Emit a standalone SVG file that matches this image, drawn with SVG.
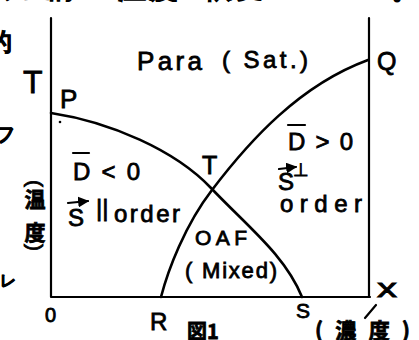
<svg xmlns="http://www.w3.org/2000/svg" width="419" height="340" viewBox="0 0 419 340">
<style>
.ln{stroke:#000;stroke-width:2.2;fill:none;stroke-linecap:round;stroke-linejoin:round}
.cv{stroke:#000;stroke-width:2.6;fill:none;stroke-linecap:round}
text{font-family:"Liberation Sans","DejaVu Sans",sans-serif;fill:#000;stroke:#000;stroke-width:0.8}
.cjk{font-family:"Noto Sans CJK JP","Noto Sans CJK SC",sans-serif;font-weight:bold}
.lb{font-size:24px}
</style>
<defs>
<marker id="ah" viewBox="0 0 10 10" refX="9" refY="5" markerWidth="5" markerHeight="5" orient="auto"><path d="M0,0 L10,5 L0,10 z" fill="#000"/></marker>
</defs>
<rect width="419" height="340" fill="#fff"/>
<g id="fragments" class="cjk">
<text x="0" y="-2" font-size="24">フ五的</text>
<text x="118" y="-2" font-size="28" letter-spacing="4">温度</text>
<text x="205" y="-2" font-size="26" letter-spacing="6">依変</text>
<text x="392" y="-1" font-size="24">。</text>
<text x="-12" y="50" font-size="24">的</text>
<text x="-5" y="141" font-size="20">フ</text>
<text x="0" y="286" font-size="16">レ</text>
</g>
<g id="axes">
<path class="ln" d="M51,18 L51,297 L370,297"/>
<path class="ln" d="M369,18 L369,297" stroke-width="1.8"/>
<path class="ln" d="M365,318 L376,305"/>
<circle cx="60" cy="122" r="1.3" fill="#000"/>
</g>
<g id="connectors">
<path id="curve-PS" class="cv" d="M51,113 C110,122 175,150 211,188 C247,226 285,255 302,297"/>
<path id="curve-RQ" class="cv" d="M161,297 C168,270 185,225 212,190 C250,140 300,85 368,60"/>
</g>
<g id="para"><text x="137" y="70" font-size="26" textLength="65">Para</text><text x="222" y="68" font-size="24" textLength="86">( Sat.)</text></g>
<g id="Q"><text x="377" y="70" font-size="25">Q</text></g>
<g id="T-axis"><text x="23" y="93" font-size="32">T</text></g>
<g id="P"><text x="60" y="108" font-size="26">P</text></g>
<g id="T-mid"><text x="202" y="174" font-size="25">T</text></g>
<g id="region-left">
<text class="lb" x="73" y="180" textLength="67">D &lt; 0</text>
<path class="ln" d="M73,153 L89,153"/>
<text class="lb" x="68" y="226" font-size="26">S</text>
<path class="ln" d="M68,203 L88,201" marker-end="url(#ah)"/>
<text class="lb" x="96" y="216" font-size="18">||</text>
<text class="lb" x="114" y="222" textLength="66">order</text>
</g>
<g id="region-right">
<text class="lb" x="288" y="150" textLength="65">D &gt; 0</text>
<path class="ln" d="M288,125 L305,125"/>
<text class="lb" x="278" y="190" font-size="26">S</text>
<path class="ln" d="M279,169 L296,167" marker-end="url(#ah)"/>
<text x="293" y="176" font-size="18" font-family="DejaVu Sans">⊥</text>
<text class="lb" x="280" y="212" textLength="82">order</text>
</g>
<g id="region-mixed">
<text x="195" y="245" font-size="21" textLength="52">OAF</text>
<text x="185" y="278" font-size="22" textLength="92">( Mixed)</text>
</g>
<g id="T-label" font-size="21">
<text transform="translate(28,180) rotate(90)">(</text>
<text class="cjk" x="35" y="207" text-anchor="middle">温</text>
<text class="cjk" x="35" y="240" text-anchor="middle">度</text>
<text transform="translate(28,244) rotate(90)">)</text>
</g>
<g id="bottom">
<text x="45" y="322" font-size="20">0</text>
<text x="150" y="330" font-size="24">R</text>
<text class="cjk" x="187" y="339" font-size="20" font-weight="normal">図1</text>
<text x="296" y="318" font-size="21">S</text>
<text class="cjk" x="315" y="338" font-size="21" textLength="95">(濃度)</text>
<text x="377" y="297" font-size="26" textLength="20" lengthAdjust="spacingAndGlyphs">x</text>
</g>
</svg>
